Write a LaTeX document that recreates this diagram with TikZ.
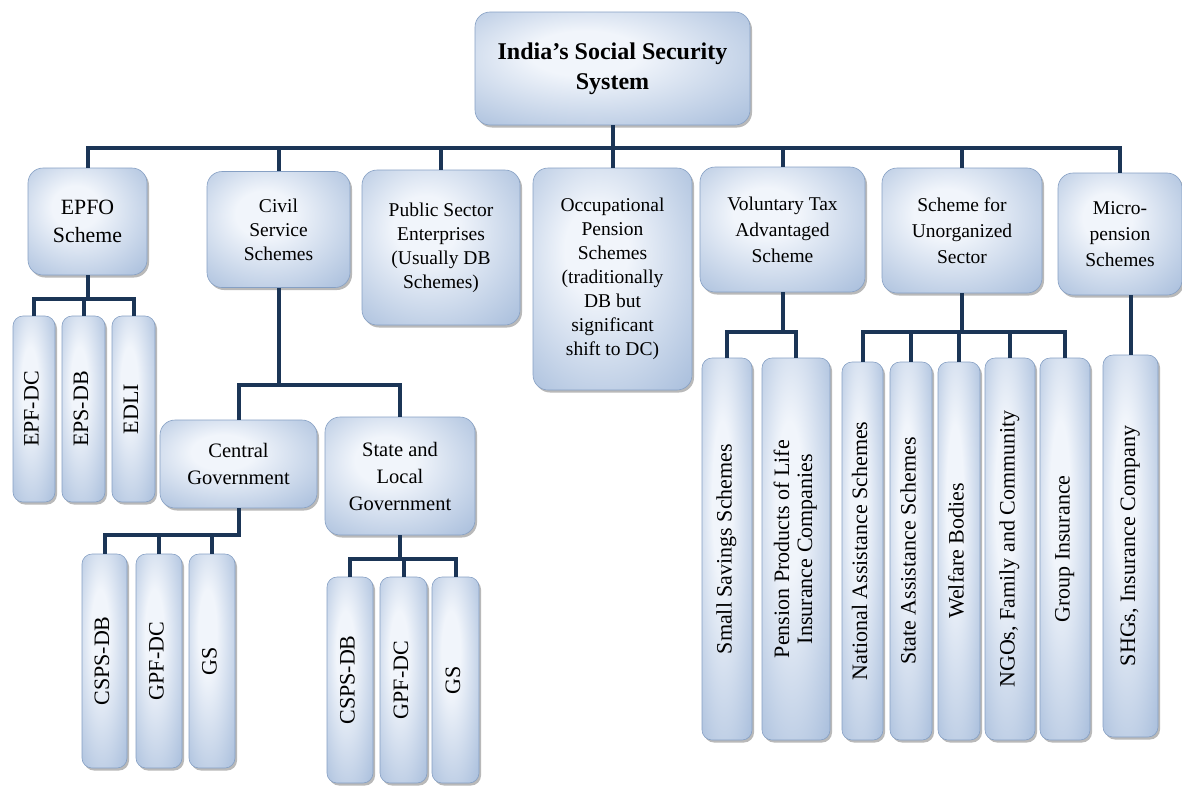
\documentclass[tikz,border=0pt]{standalone}
\usepackage{fontspec}
\setmainfont{Liberation Serif}
\usetikzlibrary{shadows}
\definecolor{boxin}{HTML}{F1F5FB}
\definecolor{boxout}{HTML}{96B0D4}
\definecolor{boxline}{HTML}{86A0C4}
\definecolor{linkcol}{HTML}{1B3556}
\pgfdeclareradialshading{boxshade}{\pgfpoint{-6bp}{8bp}}{color(0bp)=(boxin); color(10bp)=(boxin); color(46bp)=(boxout); color(60bp)=(boxout)}
\newcommand{\sidetext}[1]{\rotatebox{90}{\begin{tabular}{@{}c@{}}#1\end{tabular}}}
\begin{document}
\begin{tikzpicture}[x=1pt,y=-1pt]
  \tikzset{
    schemebox/.style={draw=boxline,line width=0.6pt,rounded corners=15pt,shading=boxshade,
      drop shadow={shadow xshift=2pt,shadow yshift=-2.5pt,opacity=0.5,fill=black!55},
      align=center,inner sep=2pt,font=\fontsize{19.5}{24}\selectfont},
    kidbox/.style={schemebox,rounded corners=10pt,font=\fontsize{22}{23}\selectfont},
    boxsize/.style 2 args={minimum width=#1,minimum height=#2},
    linkline/.style={draw=linkcol,line width=4pt}
  }
  \useasboundingbox (0,0) rectangle (1182,787);

  %TOP
  \node[schemebox,boxsize={275}{113},font=\fontsize{24}{30}\selectfont\bfseries] (india) at (612.5,68.5) {India's Social Security\\System};

  %FIRST LEVEL
  \node[schemebox,boxsize={119}{107},font=\fontsize{21.8}{28}\selectfont] (epfo) at (87.5,221.5) {EPFO\\Scheme};
  \node[schemebox,boxsize={143}{116}] (civil) at (278.5,229.5) {Civil\\Service\\Schemes};
  \node[schemebox,boxsize={158}{155}] (pse) at (441,247.5) {Public Sector\\Enterprises\\(Usually DB\\Schemes)};
  \node[schemebox,boxsize={159}{222}] (occ) at (612.5,279) {Occupational\\Pension\\Schemes\\(traditionally\\DB but\\significant\\shift to DC)};
  \node[schemebox,boxsize={165}{125},font=\fontsize{19.5}{26}\selectfont] (vol) at (782.5,229.5) {Voluntary Tax\\Advantaged\\Scheme};
  \node[schemebox,boxsize={160}{125},font=\fontsize{19.5}{26}\selectfont] (unorg) at (962,230.5) {Scheme for\\Unorganized\\Sector};
  \node[schemebox,boxsize={124}{122},font=\fontsize{19.5}{26}\selectfont] (micro) at (1120,234) {Micro-\\pension\\Schemes};

  %CIVIL SERVICE
  \node[schemebox,boxsize={157}{88},font=\fontsize{20.5}{27}\selectfont] (central) at (238.5,464) {Central\\Government};
  \node[schemebox,boxsize={150}{118},font=\fontsize{20.5}{27}\selectfont] (state) at (400,476) {State and\\Local\\Government};

  %EPFO KIDS
  \node[kidbox,boxsize={42}{186}] (epfdc) at (34,409) {\sidetext{EPF-DC}};
  \node[kidbox,boxsize={43}{186}] (epsdb) at (83.5,409) {\sidetext{EPS-DB}};
  \node[kidbox,boxsize={43}{186}] (edli) at (133.5,409) {\sidetext{EDLI}};

  %CENTRAL KIDS
  \node[kidbox,boxsize={45}{214}] (cspsa) at (104.5,661) {\sidetext{CSPS-DB}};
  \node[kidbox,boxsize={46}{214}] (gpfa) at (159,661) {\sidetext{GPF-DC}};
  \node[kidbox,boxsize={46}{214}] (gsa) at (212,661) {\sidetext{GS}};

  %STATE KIDS
  \node[kidbox,boxsize={46}{206}] (cspsb) at (350,680) {\sidetext{CSPS-DB}};
  \node[kidbox,boxsize={47}{206}] (gpfb) at (403.5,680) {\sidetext{GPF-DC}};
  \node[kidbox,boxsize={47}{206}] (gsb) at (455.5,680) {\sidetext{GS}};

  %VOLUNTARY KIDS
  \node[kidbox,boxsize={50}{382}] (small) at (727,549) {\sidetext{Small Savings Schemes}};
  \node[kidbox,boxsize={68}{382}] (pension) at (796,549) {\sidetext{Pension Products of Life\\Insurance Companies}};

  %UNORGANIZED KIDS
  \node[kidbox,boxsize={41}{378}] (national) at (862.5,551) {\sidetext{National Assistance Schemes}};
  \node[kidbox,boxsize={42}{378}] (stateas) at (911,551) {\sidetext{State Assistance Schemes}};
  \node[kidbox,boxsize={42}{378}] (welfare) at (959,551) {\sidetext{Welfare Bodies}};
  \node[kidbox,boxsize={50}{382}] (ngos) at (1010,549) {\sidetext{NGOs, Family and Community}};
  \node[kidbox,boxsize={50}{382}] (group) at (1065,549) {\sidetext{Group Insurance}};

  %MICRO KID
  \node[kidbox,boxsize={55}{382}] (shgs) at (1130.5,546) {\sidetext{SHGs, Insurance Company}};

  %CONNECTORS
  \foreach \c in {epfo,civil,pse,occ,vol,unorg,micro}
    \draw[linkline] (india.south) -- ++(0,23) -| (\c.north);
  \foreach \c in {epfdc,epsdb,edli}
    \draw[linkline] (epfo.south) -- ++(0,24) -| (\c.north);
  \foreach \c in {central,state}
    \draw[linkline] (civil.south) -- ++(0,97.5) -| (\c.north);
  \foreach \c in {cspsa,gpfa,gsa}
    \draw[linkline] (central.south) -- ++(0,27) -| (\c.north);
  \foreach \c in {cspsb,gpfb,gsb}
    \draw[linkline] (state.south) -- ++(0,24) -| (\c.north);
  \foreach \c in {small,pension}
    \draw[linkline] (vol.south) -- ++(0,40) -| (\c.north);
  \foreach \c in {national,stateas,welfare,ngos,group}
    \draw[linkline] (unorg.south) -- ++(0,39) -| (\c.north);
  \draw[linkline] (shgs.north |- micro.south) -- (shgs.north);
\end{tikzpicture}
\end{document}
